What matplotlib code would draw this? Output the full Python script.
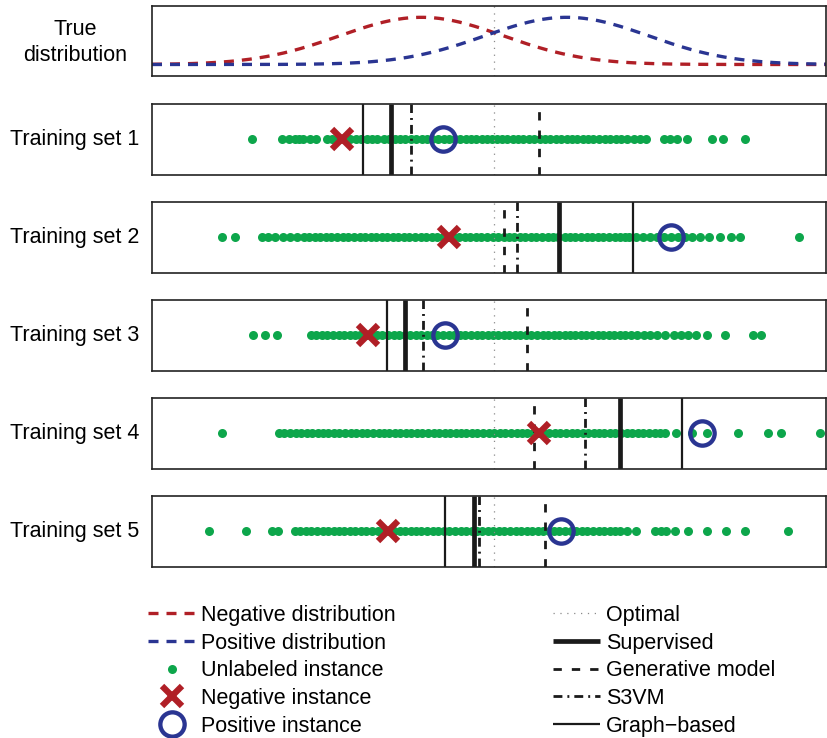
import numpy as np
import matplotlib.pyplot as plt
from matplotlib.lines import Line2D

plt.rcParams['font.family'] = ['Liberation Sans', 'DejaVu Sans']

RED = '#B01F26'
BLUE = '#2A3592'
GREEN = '#0DA64B'

# true class-conditional distributions (mean, std)
neg_mean, neg_std = -1.0, 1.13
pos_mean, pos_std = 1.0, 1.13
optimal = 0.0

set_names = ['Training set 1', 'Training set 2', 'Training set 3',
             'Training set 4', 'Training set 5']

# unlabeled instances
set1 = [-3.34, -2.92, -2.83, -2.74, -2.68, -2.63, -2.54, -2.45, -2.30, -2.23,
        -2.14, -2.07, -1.99, -1.90, -1.83, -1.75, -1.68, -1.61, -1.52, -1.45,
        -1.37, -1.30, -1.23, -1.14, -1.07, -0.99, -0.92, -0.85, -0.77, -0.69,
        -0.62, -0.54, -0.47, -0.39, -0.32, -0.25, -0.17, -0.10, -0.03, 0.04,
        0.11, 0.18, 0.26, 0.33, 0.40, 0.48, 0.55, 0.63, 0.70, 0.77, 0.85, 0.92,
        1.00, 1.07, 1.14, 1.22, 1.29, 1.36, 1.45, 1.53, 1.60, 1.68, 1.75, 1.83,
        1.92, 2.01, 2.09, 2.34, 2.42, 2.52, 2.66, 3.00, 3.15, 3.46]
set2 = [-3.75, -3.57, -3.20, -3.11, -3.01, -2.91, -2.81, -2.72, -2.62, -2.55,
        -2.47, -2.39, -2.31, -2.24, -2.16, -2.08, -2.01, -1.93, -1.85, -1.78,
        -1.70, -1.62, -1.55, -1.47, -1.39, -1.32, -1.24, -1.17, -1.09, -1.01,
        -0.94, -0.86, -0.79, -0.71, -0.63, -0.56, -0.48, -0.40, -0.33, -0.25,
        -0.18, -0.10, -0.02, 0.05, 0.13, 0.20, 0.28, 0.36, 0.43, 0.51, 0.58,
        0.66, 0.74, 0.81, 0.88, 0.97, 1.05, 1.12, 1.20, 1.28, 1.35, 1.43, 1.50,
        1.58, 1.66, 1.73, 1.80, 1.86, 1.95, 2.05, 2.14, 2.24, 2.34, 2.43, 2.53,
        2.63, 2.72, 2.84, 2.96, 3.11, 3.26, 3.38, 4.20]
set3 = [-3.32, -3.16, -2.99, -2.52, -2.45, -2.37, -2.30, -2.22, -2.14, -2.07,
        -1.99, -1.92, -1.84, -1.76, -1.69, -1.61, -1.54, -1.46, -1.38, -1.31,
        -1.23, -1.16, -1.08, -1.00, -0.93, -0.85, -0.78, -0.70, -0.62, -0.55,
        -0.47, -0.40, -0.32, -0.24, -0.17, -0.09, -0.02, 0.06, 0.13, 0.21, 0.29,
        0.36, 0.44, 0.51, 0.59, 0.67, 0.74, 0.82, 0.89, 0.97, 1.05, 1.12, 1.20,
        1.27, 1.35, 1.43, 1.50, 1.58, 1.65, 1.73, 1.80, 1.88, 1.97, 2.06, 2.15,
        2.24, 2.36, 2.48, 2.57, 2.67, 2.78, 2.93, 3.18, 3.56, 3.67]
set4 = [-3.74, -2.96, -2.89, -2.81, -2.73, -2.66, -2.58, -2.51, -2.43, -2.35,
        -2.28, -2.20, -2.13, -2.05, -1.97, -1.90, -1.82, -1.75, -1.67, -1.59,
        -1.52, -1.44, -1.37, -1.29, -1.21, -1.14, -1.06, -0.99, -0.91, -0.83,
        -0.76, -0.68, -0.61, -0.53, -0.45, -0.38, -0.30, -0.23, -0.15, -0.07,
        0.00, 0.08, 0.15, 0.23, 0.31, 0.38, 0.46, 0.53, 0.61, 0.69, 0.76, 0.84,
        0.91, 0.99, 1.07, 1.14, 1.22, 1.29, 1.37, 1.45, 1.52, 1.60, 1.67, 1.75,
        1.83, 1.90, 1.98, 2.05, 2.13, 2.21, 2.28, 2.36, 2.50, 2.72, 2.93, 3.36,
        3.77, 3.95, 4.49]
set5 = [-3.92, -3.42, -3.06, -2.98, -2.74, -2.67, -2.59, -2.52, -2.44, -2.36,
        -2.29, -2.21, -2.14, -2.06, -1.98, -1.91, -1.83, -1.76, -1.68, -1.60,
        -1.53, -1.45, -1.38, -1.30, -1.22, -1.15, -1.07, -1.00, -0.92, -0.84,
        -0.77, -0.69, -0.62, -0.54, -0.46, -0.39, -0.31, -0.24, -0.16, -0.08,
        -0.01, 0.07, 0.14, 0.22, 0.30, 0.37, 0.45, 0.52, 0.60, 0.68, 0.75, 0.83,
        0.90, 0.98, 1.06, 1.13, 1.21, 1.28, 1.36, 1.44, 1.51, 1.59, 1.66, 1.74,
        1.83, 1.95, 2.21, 2.30, 2.37, 2.49, 2.67, 2.93, 3.20, 3.46, 4.04]
unlabeled = [set1, set2, set3, set4, set5]

# labeled instances and decision boundaries per training set
neg_inst = [-2.10, -0.62, -1.74, 0.62, -1.46]
pos_inst = [-0.71, 2.44, -0.68, 2.86, 0.92]
supervised = [-1.42, 0.89, -1.22, 1.74, -0.28]
generative = [0.62, 0.14, 0.46, 0.55, 0.70]
s3vm = [-1.14, 0.31, -0.98, 1.25, -0.21]
graph_based = [-1.80, 1.91, -1.48, 2.59, -0.67]

XLIM = (-4.71, 4.57)

# styles
opt_kw = dict(color='#8a8a8a', lw=0.9, dashes=(1.0, 4.5))
sup_kw = dict(color='#1a1a1a', lw=3.4, solid_capstyle='butt')
gen_kw = dict(color='#1a1a1a', lw=2.0, dashes=(3.0, 3.6))
s3_kw = dict(color='#1a1a1a', lw=2.0, dashes=(3.2, 1.8, 0.7, 1.8))
gr_kw = dict(color='#1a1a1a', lw=1.6, solid_capstyle='butt')
unl_kw = dict(ls='none', marker='o', ms=6.5, color=GREEN, mec='none')
neg_kw = dict(ls='none', marker='x', ms=14, mew=4.5, color=RED)
pos_kw = dict(ls='none', marker='o', ms=17.5, mew=3.1, mfc='none', mec=BLUE)
negd_kw = dict(color=RED, lw=2.4, dashes=(3.0, 2.4))
posd_kw = dict(color=BLUE, lw=2.4, dashes=(3.0, 2.4))

fig = plt.figure(figsize=(8.28, 7.38), dpi=100)
W, H = 828.0, 738.0
left = 152 / W
width = (826 - 152) / W
ph = 70.5 / H
tops = [5.7, 104, 202, 300, 398, 496]


def style_frame(ax):
    ax.set_xticks([])
    ax.set_yticks([])
    for s in ax.spines.values():
        s.set_color('#222222')
        s.set_linewidth(1.2)
    ax.set_xlim(*XLIM)


# true distribution panel
ax0 = fig.add_axes([left, 1 - (tops[0] + 70.5) / H, width, ph])
xs = np.linspace(XLIM[0], XLIM[1], 400)
neg_pdf = np.exp(-0.5 * ((xs - neg_mean) / neg_std) ** 2) / (neg_std * np.sqrt(2 * np.pi))
pos_pdf = np.exp(-0.5 * ((xs - pos_mean) / pos_std) ** 2) / (pos_std * np.sqrt(2 * np.pi))
ax0.axvline(optimal, **opt_kw)
ax0.plot(xs, neg_pdf, **negd_kw)
ax0.plot(xs, pos_pdf, **posd_kw)
ax0.set_ylim(-0.0876, 0.440)
style_frame(ax0)
fig.text(75 / W, 1 - (tops[0] + 37) / H, 'True\ndistribution',
         ha='center', va='center', fontsize=15.5, linespacing=1.3)

for i in range(5):
    ax = fig.add_axes([left, 1 - (tops[i + 1] + 70.5) / H, width, ph])
    ax.plot(unlabeled[i], np.zeros(len(unlabeled[i])), zorder=1, **unl_kw)
    ax.axvline(optimal, zorder=2, **opt_kw)
    ax.axvline(graph_based[i], zorder=2, **gr_kw)
    ax.axvline(supervised[i], zorder=2, **sup_kw)
    ax.axvline(generative[i], zorder=2, **gen_kw)
    ax.axvline(s3vm[i], zorder=2, **s3_kw)
    ax.plot([neg_inst[i]], [0], zorder=3, **neg_kw)
    ax.plot([pos_inst[i]], [0], zorder=3, **pos_kw)
    ax.set_ylim(-1, 1)
    style_frame(ax)
    fig.text(75 / W, 1 - (tops[i + 1] + 35) / H, set_names[i],
             ha='center', va='center', fontsize=15.5)

left_handles = [Line2D([], [], **negd_kw), Line2D([], [], **posd_kw),
                Line2D([], [], **unl_kw), Line2D([], [], **neg_kw),
                Line2D([], [], **pos_kw)]
left_labels = ['Negative distribution', 'Positive distribution',
               'Unlabeled instance', 'Negative instance', 'Positive instance']
right_handles = [Line2D([], [], **opt_kw), Line2D([], [], **sup_kw),
                 Line2D([], [], **gen_kw), Line2D([], [], **s3_kw),
                 Line2D([], [], **gr_kw)]
right_labels = ['Optimal', 'Supervised', 'Generative model', 'S3VM',
                'Graph\u2212based']

leg_kw = dict(loc='upper left', frameon=False, fontsize=15.5, borderpad=0,
              borderaxespad=0, handlelength=2.19, handletextpad=0.28,
              labelspacing=0.31, numpoints=1)
fig.legend(left_handles, left_labels, bbox_to_anchor=(148 / W, 1 - 605 / H), **leg_kw)
fig.legend(right_handles, right_labels, bbox_to_anchor=(553 / W, 1 - 605 / H), **leg_kw)

fig.savefig('out.png', dpi=100)
